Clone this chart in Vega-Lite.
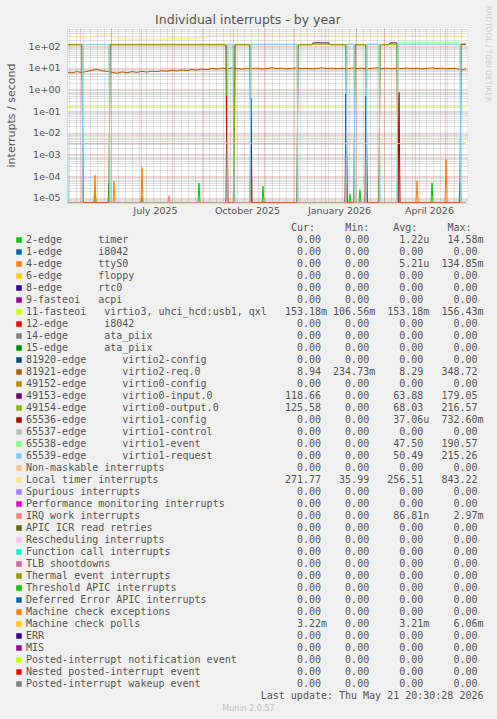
{
  "$schema": "https://vega.github.io/schema/vega-lite/v6.json",
  "width": 400,
  "height": 175,
  "autosize": {"type": "none"},
  "padding": {"left": 67, "top": 28, "right": 30, "bottom": 516},
  "background": "#F0F0F0",
  "config": {
    "view": {"fill": "#FFFFFF", "stroke": null},
    "axis": {"labelFont": "DejaVu Sans", "labelFontSize": 9.5, "labelColor": "#555555", "titleFont": "DejaVu Sans", "titleFontWeight": "normal", "titleColor": "#555555"}
  },
  "title": {"text": "Individual interrupts - by year", "font": "DejaVu Sans", "fontSize": 12.5, "fontWeight": "normal", "color": "#555555", "anchor": "middle", "frame": "group", "dx": -19, "dy": 25, "offset": 4},
  "datasets": {
    "leg": [
      {"ord": 1, "s": "2e", "name": "2-edge      timer", "cur": "0.00", "min": "0.00", "avg": "1.22u", "max": "14.58m"},
      {"ord": 2, "s": "1e", "name": "1-edge      i8042", "cur": "0.00", "min": "0.00", "avg": "0.00", "max": "0.00"},
      {"ord": 3, "s": "4e", "name": "4-edge      ttyS0", "cur": "0.00", "min": "0.00", "avg": "5.21u", "max": "134.85m"},
      {"ord": 4, "s": "6e", "name": "6-edge      floppy", "cur": "0.00", "min": "0.00", "avg": "0.00", "max": "0.00"},
      {"ord": 5, "s": "8e", "name": "8-edge      rtc0", "cur": "0.00", "min": "0.00", "avg": "0.00", "max": "0.00"},
      {"ord": 6, "s": "9f", "name": "9-fasteoi   acpi", "cur": "0.00", "min": "0.00", "avg": "0.00", "max": "0.00"},
      {"ord": 7, "s": "11f", "name": "11-fasteoi   virtio3, uhci_hcd:usb1, qxl", "cur": "153.18m", "min": "106.56m", "avg": "153.18m", "max": "156.43m"},
      {"ord": 8, "s": "12e", "name": "12-edge      i8042", "cur": "0.00", "min": "0.00", "avg": "0.00", "max": "0.00"},
      {"ord": 9, "s": "14e", "name": "14-edge      ata_piix", "cur": "0.00", "min": "0.00", "avg": "0.00", "max": "0.00"},
      {"ord": 10, "s": "15e", "name": "15-edge      ata_piix", "cur": "0.00", "min": "0.00", "avg": "0.00", "max": "0.00"},
      {"ord": 11, "s": "81920", "name": "81920-edge      virtio2-config", "cur": "0.00", "min": "0.00", "avg": "0.00", "max": "0.00"},
      {"ord": 12, "s": "81921", "name": "81921-edge      virtio2-req.0", "cur": "8.94", "min": "234.73m", "avg": "8.29", "max": "348.72"},
      {"ord": 13, "s": "49152", "name": "49152-edge      virtio0-config", "cur": "0.00", "min": "0.00", "avg": "0.00", "max": "0.00"},
      {"ord": 14, "s": "49153", "name": "49153-edge      virtio0-input.0", "cur": "118.66", "min": "0.00", "avg": "63.88", "max": "179.05"},
      {"ord": 15, "s": "49154", "name": "49154-edge      virtio0-output.0", "cur": "125.58", "min": "0.00", "avg": "68.03", "max": "216.57"},
      {"ord": 16, "s": "65536", "name": "65536-edge      virtio1-config", "cur": "0.00", "min": "0.00", "avg": "37.06u", "max": "732.60m"},
      {"ord": 17, "s": "65537", "name": "65537-edge      virtio1-control", "cur": "0.00", "min": "0.00", "avg": "0.00", "max": "0.00"},
      {"ord": 18, "s": "65538", "name": "65538-edge      virtio1-event", "cur": "0.00", "min": "0.00", "avg": "47.50", "max": "190.57"},
      {"ord": 19, "s": "65539", "name": "65539-edge      virtio1-request", "cur": "0.00", "min": "0.00", "avg": "50.49", "max": "215.26"},
      {"ord": 20, "s": "NMI", "name": "Non-maskable interrupts", "cur": "0.00", "min": "0.00", "avg": "0.00", "max": "0.00"},
      {"ord": 21, "s": "LOC", "name": "Local timer interrupts", "cur": "271.77", "min": "35.99", "avg": "256.51", "max": "843.22"},
      {"ord": 22, "s": "SPU", "name": "Spurious interrupts", "cur": "0.00", "min": "0.00", "avg": "0.00", "max": "0.00"},
      {"ord": 23, "s": "PMI", "name": "Performance monitoring interrupts", "cur": "0.00", "min": "0.00", "avg": "0.00", "max": "0.00"},
      {"ord": 24, "s": "IWI", "name": "IRQ work interrupts", "cur": "0.00", "min": "0.00", "avg": "86.81n", "max": "2.97m"},
      {"ord": 25, "s": "RTR", "name": "APIC ICR read retries", "cur": "0.00", "min": "0.00", "avg": "0.00", "max": "0.00"},
      {"ord": 26, "s": "RES", "name": "Rescheduling interrupts", "cur": "0.00", "min": "0.00", "avg": "0.00", "max": "0.00"},
      {"ord": 27, "s": "CAL", "name": "Function call interrupts", "cur": "0.00", "min": "0.00", "avg": "0.00", "max": "0.00"},
      {"ord": 28, "s": "TLB", "name": "TLB shootdowns", "cur": "0.00", "min": "0.00", "avg": "0.00", "max": "0.00"},
      {"ord": 29, "s": "TRM", "name": "Thermal event interrupts", "cur": "0.00", "min": "0.00", "avg": "0.00", "max": "0.00"},
      {"ord": 30, "s": "THR", "name": "Threshold APIC interrupts", "cur": "0.00", "min": "0.00", "avg": "0.00", "max": "0.00"},
      {"ord": 31, "s": "DFR", "name": "Deferred Error APIC interrupts", "cur": "0.00", "min": "0.00", "avg": "0.00", "max": "0.00"},
      {"ord": 32, "s": "MCE", "name": "Machine check exceptions", "cur": "0.00", "min": "0.00", "avg": "0.00", "max": "0.00"},
      {"ord": 33, "s": "MCP", "name": "Machine check polls", "cur": "3.22m", "min": "0.00", "avg": "3.21m", "max": "6.06m"},
      {"ord": 34, "s": "ERR", "name": "ERR", "cur": "0.00", "min": "0.00", "avg": "0.00", "max": "0.00"},
      {"ord": 35, "s": "MIS", "name": "MIS", "cur": "0.00", "min": "0.00", "avg": "0.00", "max": "0.00"},
      {"ord": 36, "s": "PIN", "name": "Posted-interrupt notification event", "cur": "0.00", "min": "0.00", "avg": "0.00", "max": "0.00"},
      {"ord": 37, "s": "NPI", "name": "Nested posted-interrupt event", "cur": "0.00", "min": "0.00", "avg": "0.00", "max": "0.00"},
      {"ord": 38, "s": "PIW", "name": "Posted-interrupt wakeup event", "cur": "0.00", "min": "0.00", "avg": "0.00", "max": "0.00"}
    ],
    "pts": [
      {"s": "2e", "t": "2025-04-18", "v": 0},
      {"s": "2e", "t": "2025-05-15", "v": 0}, {"s": "2e", "t": "2025-05-16", "v": 2.5e-5}, {"s": "2e", "t": "2025-05-17", "v": 0},
      {"s": "2e", "t": "2025-05-29", "v": 0}, {"s": "2e", "t": "2025-05-30", "v": 4.8e-5}, {"s": "2e", "t": "2025-05-31", "v": 0},
      {"s": "2e", "t": "2025-07-01", "v": 0}, {"s": "2e", "t": "2025-07-02", "v": 1.2e-5}, {"s": "2e", "t": "2025-07-03", "v": 0},
      {"s": "2e", "t": "2025-08-27", "v": 0}, {"s": "2e", "t": "2025-08-28", "v": 4.8e-5}, {"s": "2e", "t": "2025-08-29", "v": 0},
      {"s": "2e", "t": "2025-10-30", "v": 0}, {"s": "2e", "t": "2025-10-31", "v": 3.5e-5}, {"s": "2e", "t": "2025-11-01", "v": 0},
      {"s": "2e", "t": "2026-01-25", "v": 0}, {"s": "2e", "t": "2026-01-26", "v": 1.5e-5}, {"s": "2e", "t": "2026-01-27", "v": 0},
      {"s": "2e", "t": "2026-02-04", "v": 0}, {"s": "2e", "t": "2026-02-05", "v": 2.4e-5}, {"s": "2e", "t": "2026-02-06", "v": 0},
      {"s": "2e", "t": "2026-04-17", "v": 0}, {"s": "2e", "t": "2026-04-18", "v": 5e-5}, {"s": "2e", "t": "2026-04-19", "v": 0},
      {"s": "2e", "t": "2026-05-15", "v": 0}, {"s": "2e", "t": "2026-05-16", "v": 5e-5}, {"s": "2e", "t": "2026-05-17", "v": 0},
      {"s": "2e", "t": "2026-05-22", "v": 0},
      {"s": "1e", "t": "2025-04-18", "v": 0},
      {"s": "4e", "t": "2025-04-18", "v": 0},
      {"s": "4e", "t": "2025-05-15", "v": 0}, {"s": "4e", "t": "2025-05-16", "v": 1.1e-4}, {"s": "4e", "t": "2025-05-17", "v": 0},
      {"s": "4e", "t": "2025-06-03", "v": 0}, {"s": "4e", "t": "2025-06-04", "v": 6e-5}, {"s": "4e", "t": "2025-06-05", "v": 0},
      {"s": "4e", "t": "2025-07-01", "v": 0}, {"s": "4e", "t": "2025-07-02", "v": 2.5e-4}, {"s": "4e", "t": "2025-07-03", "v": 0},
      {"s": "4e", "t": "2025-10-01", "v": 0}, {"s": "4e", "t": "2025-10-02", "v": 1e-4}, {"s": "4e", "t": "2025-10-03", "v": 0},
      {"s": "4e", "t": "2026-04-02", "v": 0}, {"s": "4e", "t": "2026-04-03", "v": 6e-5}, {"s": "4e", "t": "2026-04-04", "v": 0},
      {"s": "4e", "t": "2026-05-01", "v": 0}, {"s": "4e", "t": "2026-05-02", "v": 6e-4}, {"s": "4e", "t": "2026-05-03", "v": 0},
      {"s": "4e", "t": "2026-05-22", "v": 0},
      {"s": "6e", "t": "2025-04-18", "v": 0},
      {"s": "8e", "t": "2025-04-18", "v": 0},
      {"s": "9f", "t": "2025-04-18", "v": 0},
      {"s": "11f", "t": "2025-04-18", "v": 0.153}, {"s": "11f", "t": "2026-05-22", "v": 0.153},
      {"s": "12e", "t": "2025-04-18", "v": 0},
      {"s": "14e", "t": "2025-04-18", "v": 0},
      {"s": "15e", "t": "2025-04-18", "v": 0},
      {"s": "81920", "t": "2025-04-18", "v": 0},
      {"s": "81921", "t": "2025-04-18", "v": 6.2}, {"s": "81921", "t": "2025-04-23", "v": 5.8}, {"s": "81921", "t": "2025-04-28", "v": 6.6}, {"s": "81921", "t": "2025-05-03", "v": 6.0},
      {"s": "81921", "t": "2025-05-08", "v": 6.8}, {"s": "81921", "t": "2025-05-13", "v": 7.6}, {"s": "81921", "t": "2025-05-18", "v": 8.4}, {"s": "81921", "t": "2025-05-23", "v": 7.2},
      {"s": "81921", "t": "2025-05-28", "v": 6.8}, {"s": "81921", "t": "2025-06-02", "v": 6.2}, {"s": "81921", "t": "2025-06-07", "v": 5.6}, {"s": "81921", "t": "2025-06-12", "v": 6.4},
      {"s": "81921", "t": "2025-06-17", "v": 5.9}, {"s": "81921", "t": "2025-06-22", "v": 6.6}, {"s": "81921", "t": "2025-06-27", "v": 6.1}, {"s": "81921", "t": "2025-07-02", "v": 6.8},
      {"s": "81921", "t": "2025-07-07", "v": 6.3}, {"s": "81921", "t": "2025-07-12", "v": 7.0}, {"s": "81921", "t": "2025-07-17", "v": 6.6}, {"s": "81921", "t": "2025-07-22", "v": 7.3},
      {"s": "81921", "t": "2025-07-27", "v": 6.9}, {"s": "81921", "t": "2025-08-01", "v": 7.6}, {"s": "81921", "t": "2025-08-06", "v": 7.1}, {"s": "81921", "t": "2025-08-11", "v": 7.9},
      {"s": "81921", "t": "2025-08-16", "v": 7.4}, {"s": "81921", "t": "2025-08-21", "v": 8.3}, {"s": "81921", "t": "2025-08-26", "v": 7.8}, {"s": "81921", "t": "2025-08-31", "v": 8.8},
      {"s": "81921", "t": "2025-09-05", "v": 8.2}, {"s": "81921", "t": "2025-09-10", "v": 9.3}, {"s": "81921", "t": "2025-09-15", "v": 8.7}, {"s": "81921", "t": "2025-09-20", "v": 9.6},
      {"s": "81921", "t": "2025-09-25", "v": 9.0}, {"s": "81921", "t": "2025-09-30", "v": 9.8}, {"s": "81921", "t": "2025-10-05", "v": 9.2}, {"s": "81921", "t": "2025-10-10", "v": 8.6},
      {"s": "81921", "t": "2025-10-15", "v": 9.5}, {"s": "81921", "t": "2025-10-20", "v": 8.9}, {"s": "81921", "t": "2025-10-25", "v": 9.6}, {"s": "81921", "t": "2025-10-30", "v": 8.7},
      {"s": "81921", "t": "2025-11-04", "v": 9.3}, {"s": "81921", "t": "2025-11-09", "v": 9.9}, {"s": "81921", "t": "2025-11-14", "v": 9.1}, {"s": "81921", "t": "2025-11-19", "v": 9.6},
      {"s": "81921", "t": "2025-11-24", "v": 8.8}, {"s": "81921", "t": "2025-11-29", "v": 9.4}, {"s": "81921", "t": "2025-12-04", "v": 9.8}, {"s": "81921", "t": "2025-12-09", "v": 9.0},
      {"s": "81921", "t": "2025-12-14", "v": 9.5}, {"s": "81921", "t": "2025-12-19", "v": 8.9}, {"s": "81921", "t": "2025-12-24", "v": 9.4}, {"s": "81921", "t": "2025-12-29", "v": 9.9},
      {"s": "81921", "t": "2026-01-03", "v": 9.2}, {"s": "81921", "t": "2026-01-08", "v": 9.6}, {"s": "81921", "t": "2026-01-13", "v": 9.0}, {"s": "81921", "t": "2026-01-18", "v": 9.5},
      {"s": "81921", "t": "2026-01-23", "v": 9.1}, {"s": "81921", "t": "2026-01-28", "v": 9.7}, {"s": "81921", "t": "2026-02-02", "v": 9.2}, {"s": "81921", "t": "2026-02-07", "v": 9.6},
      {"s": "81921", "t": "2026-02-12", "v": 8.9}, {"s": "81921", "t": "2026-02-17", "v": 9.4}, {"s": "81921", "t": "2026-02-22", "v": 9.8}, {"s": "81921", "t": "2026-02-27", "v": 9.1},
      {"s": "81921", "t": "2026-03-04", "v": 9.5}, {"s": "81921", "t": "2026-03-09", "v": 9.0}, {"s": "81921", "t": "2026-03-14", "v": 9.6}, {"s": "81921", "t": "2026-03-19", "v": 9.2},
      {"s": "81921", "t": "2026-03-24", "v": 9.7}, {"s": "81921", "t": "2026-03-29", "v": 9.1}, {"s": "81921", "t": "2026-04-03", "v": 9.5}, {"s": "81921", "t": "2026-04-08", "v": 8.9},
      {"s": "81921", "t": "2026-04-13", "v": 9.4}, {"s": "81921", "t": "2026-04-18", "v": 9.8}, {"s": "81921", "t": "2026-04-23", "v": 9.2}, {"s": "81921", "t": "2026-04-28", "v": 9.6},
      {"s": "81921", "t": "2026-05-03", "v": 9.0}, {"s": "81921", "t": "2026-05-08", "v": 9.4}, {"s": "81921", "t": "2026-05-13", "v": 9.1}, {"s": "81921", "t": "2026-05-18", "v": 7.8},
      {"s": "81921", "t": "2026-05-22", "v": 8.94},
      {"s": "49152", "t": "2025-04-18", "v": 0},
      {"s": "49153", "t": "2025-04-18", "v": 115}, {"s": "49153", "t": "2025-05-03", "v": 115}, {"s": "49153", "t": "2025-05-04", "v": 0}, {"s": "49153", "t": "2025-05-30", "v": 0},
      {"s": "49153", "t": "2025-05-31", "v": 115}, {"s": "49153", "t": "2025-09-24", "v": 115}, {"s": "49153", "t": "2025-09-25", "v": 0}, {"s": "49153", "t": "2025-10-02", "v": 0},
      {"s": "49153", "t": "2025-10-03", "v": 115}, {"s": "49153", "t": "2025-10-18", "v": 115}, {"s": "49153", "t": "2025-10-19", "v": 0}, {"s": "49153", "t": "2025-12-04", "v": 0},
      {"s": "49153", "t": "2025-12-05", "v": 115}, {"s": "49153", "t": "2025-12-19", "v": 115}, {"s": "49153", "t": "2025-12-20", "v": 140}, {"s": "49153", "t": "2026-01-05", "v": 140},
      {"s": "49153", "t": "2026-01-06", "v": 115}, {"s": "49153", "t": "2026-01-22", "v": 115}, {"s": "49153", "t": "2026-01-23", "v": 0}, {"s": "49153", "t": "2026-01-30", "v": 0},
      {"s": "49153", "t": "2026-01-31", "v": 115}, {"s": "49153", "t": "2026-02-11", "v": 115}, {"s": "49153", "t": "2026-02-12", "v": 0}, {"s": "49153", "t": "2026-02-24", "v": 0},
      {"s": "49153", "t": "2026-02-25", "v": 115}, {"s": "49153", "t": "2026-03-06", "v": 115}, {"s": "49153", "t": "2026-03-07", "v": 140}, {"s": "49153", "t": "2026-03-14", "v": 140},
      {"s": "49153", "t": "2026-03-15", "v": 0}, {"s": "49153", "t": "2026-05-16", "v": 0}, {"s": "49153", "t": "2026-05-17", "v": 118.66}, {"s": "49153", "t": "2026-05-22", "v": 118.66},
      {"s": "49154", "t": "2025-04-18", "v": 120}, {"s": "49154", "t": "2025-05-03", "v": 120}, {"s": "49154", "t": "2025-05-04", "v": 0}, {"s": "49154", "t": "2025-05-30", "v": 0},
      {"s": "49154", "t": "2025-05-31", "v": 120}, {"s": "49154", "t": "2025-09-24", "v": 120}, {"s": "49154", "t": "2025-09-25", "v": 0}, {"s": "49154", "t": "2025-10-02", "v": 0},
      {"s": "49154", "t": "2025-10-03", "v": 120}, {"s": "49154", "t": "2025-10-18", "v": 120}, {"s": "49154", "t": "2025-10-19", "v": 0}, {"s": "49154", "t": "2025-12-04", "v": 0},
      {"s": "49154", "t": "2025-12-05", "v": 120}, {"s": "49154", "t": "2026-01-22", "v": 120}, {"s": "49154", "t": "2026-01-23", "v": 0}, {"s": "49154", "t": "2026-01-30", "v": 0},
      {"s": "49154", "t": "2026-01-31", "v": 120}, {"s": "49154", "t": "2026-02-11", "v": 120}, {"s": "49154", "t": "2026-02-12", "v": 0}, {"s": "49154", "t": "2026-02-24", "v": 0},
      {"s": "49154", "t": "2026-02-25", "v": 120}, {"s": "49154", "t": "2026-03-14", "v": 120}, {"s": "49154", "t": "2026-03-15", "v": 0}, {"s": "49154", "t": "2026-05-16", "v": 0},
      {"s": "49154", "t": "2026-05-17", "v": 125.58}, {"s": "49154", "t": "2026-05-22", "v": 125.58},
      {"s": "65536", "t": "2025-04-18", "v": 0},
      {"s": "65536", "t": "2025-09-24", "v": 0}, {"s": "65536", "t": "2025-09-25", "v": 0.5}, {"s": "65536", "t": "2025-09-26", "v": 0},
      {"s": "65536", "t": "2025-10-18", "v": 0}, {"s": "65536", "t": "2025-10-19", "v": 0.4}, {"s": "65536", "t": "2025-10-20", "v": 0},
      {"s": "65536", "t": "2026-01-21", "v": 0}, {"s": "65536", "t": "2026-01-22", "v": 0.6}, {"s": "65536", "t": "2026-01-23", "v": 0},
      {"s": "65536", "t": "2026-02-10", "v": 0}, {"s": "65536", "t": "2026-02-11", "v": 0.5}, {"s": "65536", "t": "2026-02-12", "v": 0},
      {"s": "65536", "t": "2026-03-15", "v": 0}, {"s": "65536", "t": "2026-03-16", "v": 0.73}, {"s": "65536", "t": "2026-03-17", "v": 0},
      {"s": "65536", "t": "2026-05-22", "v": 0},
      {"s": "65537", "t": "2025-04-18", "v": 0},
      {"s": "65538", "t": "2025-04-18", "v": 115}, {"s": "65538", "t": "2025-04-19", "v": 0}, {"s": "65538", "t": "2025-05-03", "v": 0}, {"s": "65538", "t": "2025-05-04", "v": 115},
      {"s": "65538", "t": "2025-05-30", "v": 115}, {"s": "65538", "t": "2025-05-31", "v": 0}, {"s": "65538", "t": "2025-09-25", "v": 0}, {"s": "65538", "t": "2025-09-26", "v": 115},
      {"s": "65538", "t": "2025-10-01", "v": 115}, {"s": "65538", "t": "2025-10-02", "v": 0}, {"s": "65538", "t": "2025-10-18", "v": 0}, {"s": "65538", "t": "2025-10-19", "v": 125},
      {"s": "65538", "t": "2025-12-04", "v": 125}, {"s": "65538", "t": "2025-12-05", "v": 0}, {"s": "65538", "t": "2026-01-22", "v": 0}, {"s": "65538", "t": "2026-01-23", "v": 125},
      {"s": "65538", "t": "2026-01-30", "v": 125}, {"s": "65538", "t": "2026-01-31", "v": 0}, {"s": "65538", "t": "2026-02-11", "v": 0}, {"s": "65538", "t": "2026-02-12", "v": 125},
      {"s": "65538", "t": "2026-02-24", "v": 125}, {"s": "65538", "t": "2026-02-25", "v": 0}, {"s": "65538", "t": "2026-03-14", "v": 0}, {"s": "65538", "t": "2026-03-15", "v": 140},
      {"s": "65538", "t": "2026-05-16", "v": 140}, {"s": "65538", "t": "2026-05-17", "v": 0}, {"s": "65538", "t": "2026-05-22", "v": 0},
      {"s": "65539", "t": "2025-04-18", "v": 120}, {"s": "65539", "t": "2025-04-19", "v": 0}, {"s": "65539", "t": "2025-05-03", "v": 0}, {"s": "65539", "t": "2025-05-04", "v": 120},
      {"s": "65539", "t": "2025-05-30", "v": 120}, {"s": "65539", "t": "2025-05-31", "v": 0}, {"s": "65539", "t": "2025-09-25", "v": 0}, {"s": "65539", "t": "2025-09-26", "v": 120},
      {"s": "65539", "t": "2025-10-01", "v": 120}, {"s": "65539", "t": "2025-10-02", "v": 0}, {"s": "65539", "t": "2025-10-18", "v": 0}, {"s": "65539", "t": "2025-10-19", "v": 115},
      {"s": "65539", "t": "2025-12-04", "v": 115}, {"s": "65539", "t": "2025-12-05", "v": 0}, {"s": "65539", "t": "2026-01-22", "v": 0}, {"s": "65539", "t": "2026-01-23", "v": 118},
      {"s": "65539", "t": "2026-01-30", "v": 118}, {"s": "65539", "t": "2026-01-31", "v": 0}, {"s": "65539", "t": "2026-02-11", "v": 0}, {"s": "65539", "t": "2026-02-12", "v": 118},
      {"s": "65539", "t": "2026-02-24", "v": 118}, {"s": "65539", "t": "2026-02-25", "v": 0}, {"s": "65539", "t": "2026-03-14", "v": 0}, {"s": "65539", "t": "2026-03-15", "v": 120},
      {"s": "65539", "t": "2026-05-16", "v": 120}, {"s": "65539", "t": "2026-05-17", "v": 0}, {"s": "65539", "t": "2026-05-22", "v": 0},
      {"s": "NMI", "t": "2025-04-18", "v": 0},
      {"s": "LOC", "t": "2025-04-18", "v": 262}, {"s": "LOC", "t": "2025-04-23", "v": 268}, {"s": "LOC", "t": "2025-04-28", "v": 265}, {"s": "LOC", "t": "2025-05-03", "v": 270},
      {"s": "LOC", "t": "2025-05-08", "v": 262}, {"s": "LOC", "t": "2025-05-13", "v": 268}, {"s": "LOC", "t": "2025-05-18", "v": 300}, {"s": "LOC", "t": "2025-05-23", "v": 318},
      {"s": "LOC", "t": "2025-05-28", "v": 322}, {"s": "LOC", "t": "2025-06-02", "v": 315}, {"s": "LOC", "t": "2025-06-07", "v": 232}, {"s": "LOC", "t": "2025-06-12", "v": 225},
      {"s": "LOC", "t": "2025-06-17", "v": 212}, {"s": "LOC", "t": "2025-06-22", "v": 208}, {"s": "LOC", "t": "2025-06-27", "v": 212}, {"s": "LOC", "t": "2025-07-02", "v": 210},
      {"s": "LOC", "t": "2025-07-07", "v": 212}, {"s": "LOC", "t": "2025-07-12", "v": 208}, {"s": "LOC", "t": "2025-07-17", "v": 212}, {"s": "LOC", "t": "2025-07-22", "v": 215},
      {"s": "LOC", "t": "2025-07-27", "v": 218}, {"s": "LOC", "t": "2025-08-01", "v": 222}, {"s": "LOC", "t": "2025-08-06", "v": 225}, {"s": "LOC", "t": "2025-08-11", "v": 224},
      {"s": "LOC", "t": "2025-08-16", "v": 226}, {"s": "LOC", "t": "2025-08-21", "v": 228}, {"s": "LOC", "t": "2025-08-26", "v": 232}, {"s": "LOC", "t": "2025-08-31", "v": 250},
      {"s": "LOC", "t": "2025-09-05", "v": 290}, {"s": "LOC", "t": "2025-09-10", "v": 305}, {"s": "LOC", "t": "2025-09-15", "v": 312}, {"s": "LOC", "t": "2025-09-20", "v": 318},
      {"s": "LOC", "t": "2025-09-25", "v": 322}, {"s": "LOC", "t": "2025-09-30", "v": 325}, {"s": "LOC", "t": "2025-10-05", "v": 318}, {"s": "LOC", "t": "2025-10-10", "v": 315},
      {"s": "LOC", "t": "2025-10-15", "v": 312}, {"s": "LOC", "t": "2025-10-20", "v": 318}, {"s": "LOC", "t": "2025-10-25", "v": 320}, {"s": "LOC", "t": "2025-10-30", "v": 314},
      {"s": "LOC", "t": "2025-11-04", "v": 310}, {"s": "LOC", "t": "2025-11-09", "v": 316}, {"s": "LOC", "t": "2025-11-14", "v": 320}, {"s": "LOC", "t": "2025-11-19", "v": 315},
      {"s": "LOC", "t": "2025-11-24", "v": 312}, {"s": "LOC", "t": "2025-11-29", "v": 318}, {"s": "LOC", "t": "2025-12-04", "v": 314}, {"s": "LOC", "t": "2025-12-09", "v": 318},
      {"s": "LOC", "t": "2025-12-14", "v": 322}, {"s": "LOC", "t": "2025-12-19", "v": 316}, {"s": "LOC", "t": "2025-12-24", "v": 310}, {"s": "LOC", "t": "2025-12-29", "v": 306},
      {"s": "LOC", "t": "2026-01-03", "v": 300}, {"s": "LOC", "t": "2026-01-08", "v": 296}, {"s": "LOC", "t": "2026-01-13", "v": 292}, {"s": "LOC", "t": "2026-01-18", "v": 298},
      {"s": "LOC", "t": "2026-01-23", "v": 290}, {"s": "LOC", "t": "2026-01-28", "v": 295}, {"s": "LOC", "t": "2026-02-02", "v": 300}, {"s": "LOC", "t": "2026-02-07", "v": 292},
      {"s": "LOC", "t": "2026-02-12", "v": 288}, {"s": "LOC", "t": "2026-02-17", "v": 295}, {"s": "LOC", "t": "2026-02-22", "v": 290}, {"s": "LOC", "t": "2026-02-27", "v": 296},
      {"s": "LOC", "t": "2026-03-04", "v": 300}, {"s": "LOC", "t": "2026-03-09", "v": 294}, {"s": "LOC", "t": "2026-03-14", "v": 288}, {"s": "LOC", "t": "2026-03-19", "v": 292},
      {"s": "LOC", "t": "2026-03-24", "v": 298}, {"s": "LOC", "t": "2026-03-29", "v": 302}, {"s": "LOC", "t": "2026-04-03", "v": 296}, {"s": "LOC", "t": "2026-04-08", "v": 300},
      {"s": "LOC", "t": "2026-04-13", "v": 294}, {"s": "LOC", "t": "2026-04-18", "v": 290}, {"s": "LOC", "t": "2026-04-23", "v": 296}, {"s": "LOC", "t": "2026-04-28", "v": 300},
      {"s": "LOC", "t": "2026-05-03", "v": 294}, {"s": "LOC", "t": "2026-05-08", "v": 290}, {"s": "LOC", "t": "2026-05-13", "v": 286}, {"s": "LOC", "t": "2026-05-18", "v": 282},
      {"s": "LOC", "t": "2026-05-22", "v": 272},
      {"s": "SPU", "t": "2025-04-18", "v": 0},
      {"s": "PMI", "t": "2025-04-18", "v": 0},
      {"s": "IWI", "t": "2025-04-18", "v": 0},
      {"s": "IWI", "t": "2025-07-28", "v": 0}, {"s": "IWI", "t": "2025-07-29", "v": 1.25e-5}, {"s": "IWI", "t": "2025-07-30", "v": 0},
      {"s": "IWI", "t": "2025-09-24", "v": 0}, {"s": "IWI", "t": "2025-09-25", "v": 1e-5}, {"s": "IWI", "t": "2025-09-26", "v": 0},
      {"s": "IWI", "t": "2026-05-22", "v": 0},
      {"s": "RTR", "t": "2025-04-18", "v": 0},
      {"s": "RES", "t": "2025-04-18", "v": 0},
      {"s": "CAL", "t": "2025-04-18", "v": 0},
      {"s": "TLB", "t": "2025-04-18", "v": 0},
      {"s": "TRM", "t": "2025-04-18", "v": 0},
      {"s": "THR", "t": "2025-04-18", "v": 0},
      {"s": "DFR", "t": "2025-04-18", "v": 0},
      {"s": "MCE", "t": "2025-04-18", "v": 0},
      {"s": "MCP", "t": "2025-04-18", "v": 0.0032}, {"s": "MCP", "t": "2025-10-01", "v": 0.0032}, {"s": "MCP", "t": "2026-05-22", "v": 0.00322},
      {"s": "ERR", "t": "2025-04-18", "v": 0},
      {"s": "MIS", "t": "2025-04-18", "v": 0},
      {"s": "PIN", "t": "2025-04-18", "v": 0},
      {"s": "NPI", "t": "2025-04-18", "v": 0},
      {"s": "PIW", "t": "2025-04-18", "v": 0}
    ]
  },
  "data": {"name": "pts"},
  "resolve": {"axis": {"x": "independent", "y": "independent"}},
  "layer": [
    {
      "transform": [
        {"lookup": "s", "from": {"data": {"name": "leg"}, "key": "s", "fields": ["ord", "name", "cur", "min", "avg", "max"]}},
        {"calculate": "pad(datum.name, 41) + pad(datum.cur + (test(/[0-9]$/, datum.cur) ? ' ' : ''), 9, ' ', 'left') + pad(datum.min + (test(/[0-9]$/, datum.min) ? ' ' : ''), 8, ' ', 'left') + pad(datum.avg + (test(/[0-9]$/, datum.avg) ? ' ' : ''), 9, ' ', 'left') + pad(datum.max + (test(/[0-9]$/, datum.max) ? ' ' : ''), 9, ' ', 'left')", "as": "line"}
      ],
      "mark": {"type": "line", "strokeWidth": 1, "invalid": "show", "clip": true},
      "encoding": {
        "x": {
          "field": "t", "type": "temporal",
          "scale": {"type": "utc", "domain": [{"year": 2025, "month": 4, "date": 18, "utc": true}, {"year": 2026, "month": 5, "date": 23, "utc": true}], "nice": false},
          "axis": {
            "orient": "bottom", "zindex": 1, "tickCount": {"interval": "month"},
            "grid": true, "gridColor": "#de4f4f", "gridOpacity": 0.55, "gridDash": [1, 1],
            "ticks": false, "tickSize": 0, "domain": true, "domainColor": "#CFD6F8",
            "labelExpr": "utcmonth(datum.value) % 3 == 0 ? utcFormat(datum.value, '%B %Y') : ''",
            "labelOffset": 14, "labelPadding": 2, "labelOverlap": false, "labelFlush": false, "labelBound": false,
            "title": "Last update: Thu May 21 20:30:28 2026", "titleFont": "DejaVu Sans Mono", "titleFontSize": 10,
            "titleX": 416, "titleY": 492, "titleAlign": "right", "titleBaseline": "middle", "titleAngle": 0
          }
        },
        "y": {
          "field": "v", "type": "quantitative",
          "scale": {"type": "log", "domain": [5.8e-6, 680], "nice": false, "clamp": true},
          "axis": {
            "orient": "left", "zindex": 1, "values": [1e-5, 1e-4, 1e-3, 1e-2, 0.1, 1, 10, 100],
            "grid": false, "ticks": false, "tickSize": 0, "domain": true, "domainColor": "#CFD6F8",
            "labelExpr": "'1e' + (datum.value >= 1 ? '+' : '-') + pad(toString(round(abs(log(datum.value) / LN10))), 2, '0', 'left')",
            "labelPadding": 7, "labelBaseline": "middle",
            "title": "interrupts / second", "titleFontSize": 11, "titleX": -56, "titleY": 87, "titleAngle": 270, "titleAlign": "center", "titleBaseline": "middle"
          }
        },
        "color": {
          "field": "line", "type": "nominal", "sort": {"field": "ord", "op": "min"},
          "scale": {"range": ["#00CC00", "#0066B3", "#FF8000", "#FFCC00", "#330099", "#990099", "#CCFF00", "#FF0000", "#808080", "#008F00", "#00487D", "#B35A00", "#B38F00", "#6B006B", "#8FB300", "#B30000", "#BEBEBE", "#80FF80", "#80C9FF", "#FFC080", "#FFE680", "#AA80FF", "#EE00CC", "#FF8080", "#666600", "#FFBFFF", "#00FFCC", "#CC6699", "#999900", "#00CC00", "#0066B3", "#FF8000", "#FFCC00", "#330099", "#990099", "#CCFF00", "#FF0000", "#808080"]},
          "legend": {
            "orient": "none", "legendX": -53, "legendY": 195, "direction": "vertical", "columns": 1, "padding": 0,
            "title": "\u200b\u00a0\u00a0\u00a0\u00a0\u00a0\u00a0\u00a0\u00a0\u00a0\u00a0\u00a0\u00a0\u00a0\u00a0\u00a0\u00a0\u00a0\u00a0\u00a0\u00a0\u00a0\u00a0\u00a0\u00a0\u00a0\u00a0\u00a0\u00a0\u00a0\u00a0\u00a0\u00a0\u00a0\u00a0\u00a0\u00a0\u00a0\u00a0\u00a0\u00a0\u00a0\u00a0\u00a0\u00a0\u00a0\u00a0Cur:\u00a0\u00a0\u00a0\u00a0\u00a0Min:\u00a0\u00a0\u00a0\u00a0Avg:\u00a0\u00a0\u00a0\u00a0\u00a0Max:",
            "titleFont": "DejaVu Sans Mono", "titleFontSize": 10, "titleFontWeight": "normal", "titleColor": "#555555", "titlePadding": 2, "titleLimit": 1000,
            "labelFont": "DejaVu Sans Mono", "labelFontSize": 10, "labelColor": "#555555", "labelLimit": 1000, "labelOffset": 2,
            "labelExpr": "replace(datum.label, / /g, '\u00a0')",
            "symbolType": "square", "symbolSize": 30, "symbolStrokeWidth": 0, "symbolLimit": 60, "rowPadding": 2,
            "encode": {"symbols": {"update": {"fill": {"scale": "color", "field": "value"}, "stroke": {"value": "transparent"}, "opacity": {"value": 1}}}}
          }
        }
      }
    },
    {
      "transform": [{"filter": "false"}],
      "mark": {"type": "point"},
      "encoding": {
        "x": {
          "field": "t", "type": "temporal",
          "axis": {
            "orient": "top", "zindex": 0, "tickCount": {"interval": "week"},
            "grid": true, "gridColor": "#8f8f8f", "gridOpacity": 0.5, "gridDash": [1, 1],
            "labels": false, "ticks": false, "tickSize": 0, "domain": false,
            "title": "Munin 2.0.57", "titleFont": "DejaVu Sans", "titleFontSize": 8, "titleColor": "#c4c4c4",
            "titleX": 181, "titleY": 680, "titleAlign": "center", "titleBaseline": "middle", "titleAngle": 0
          }
        },
        "y": {
          "field": "v", "type": "quantitative",
          "axis": {
            "orient": "right", "zindex": 0,
            "values": [6e-6, 7e-6, 8e-6, 9e-6, 1e-5, 2e-5, 3e-5, 4e-5, 5e-5, 6e-5, 7e-5, 8e-5, 9e-5, 1e-4, 2e-4, 3e-4, 4e-4, 5e-4, 6e-4, 7e-4, 8e-4, 9e-4, 1e-3, 2e-3, 3e-3, 4e-3, 5e-3, 6e-3, 7e-3, 8e-3, 9e-3, 0.01, 0.02, 0.03, 0.04, 0.05, 0.06, 0.07, 0.08, 0.09, 0.1, 0.2, 0.3, 0.4, 0.5, 0.6, 0.7, 0.8, 0.9, 1, 2, 3, 4, 5, 6, 7, 8, 9, 10, 20, 30, 40, 50, 60, 70, 80, 90, 100, 200, 300, 400, 500, 600],
            "grid": true, "gridDash": [1, 1], "gridOpacity": 0.55,
            "gridColor": {"condition": {"test": "abs(log(datum.value) / LN10 - round(log(datum.value) / LN10)) < 0.001", "value": "#de4f4f"}, "value": "#8f8f8f"},
            "labels": false, "ticks": false, "tickSize": 0, "domain": false,
            "title": "RRDTOOL / TOBI OETIKER", "titleFontSize": 7.5, "titleColor": "#cccccc",
            "titleX": 20.5, "titleY": 25.5, "titleAngle": 90, "titleAlign": "center", "titleBaseline": "middle"
          }
        }
      }
    }
  ]
}
